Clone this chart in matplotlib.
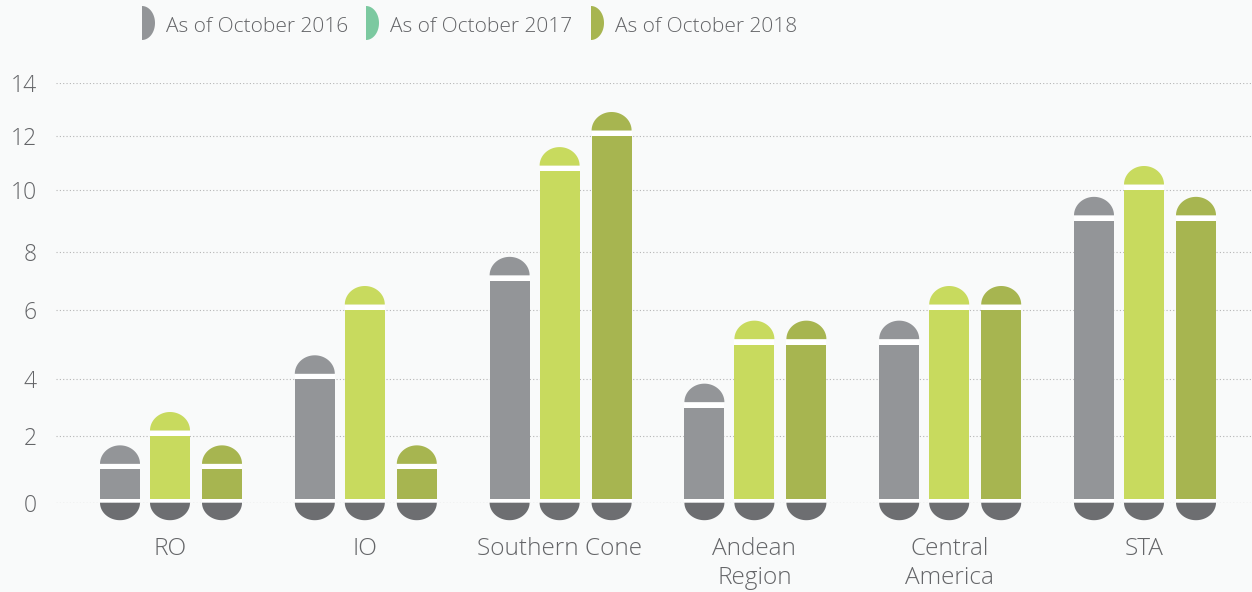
import numpy as np
import matplotlib
matplotlib.use("Agg")
import matplotlib.pyplot as plt
from matplotlib.patches import Polygon, Rectangle
from matplotlib.transforms import ScaledTranslation

# ---------------- data ----------------
categories = ["RO", "IO", "Southern Cone", "Andean\nRegion", "Central\nAmerica", "STA"]
series_labels = ["As of October 2016", "As of October 2017", "As of October 2018"]
values_2016 = [1, 4, 7, 3, 5, 9]
values_2017 = [2, 6, 10.7, 5, 6, 10]
values_2018 = [1, 1, 12, 5, 6, 9]
y_ticks = [0, 2, 4, 6, 8, 10, 12, 14]

# ---------------- style ----------------
W, H, DPI = 1252, 592, 100
BG = "#f9fafa"
TXT = "#646568"
bar_colors = ["#939598", "#c8da5e", "#a7b550"]
legend_colors = ["#939598", "#7cc9a0", "#a7b550"]
base_color = "#6d6e71"
FONT = "Open Sans"
WEIGHT = "light"

# irregular vertical placement of the reference axis (pixel heights above zero line)
tick_heights_px = [0, 66.7, 123.4, 192.7, 251.0, 312.7, 366.7, 419.7]

tv = np.array(y_ticks, float)
th = np.array(tick_heights_px, float)


def fwd(v):
    v = np.asarray(v, float)
    out = np.interp(v, tv, th)
    lo = v < tv[0]
    hi = v > tv[-1]
    out = np.where(lo, th[0] + (v - tv[0]) * (th[1] - th[0]) / (tv[1] - tv[0]), out)
    out = np.where(hi, th[-1] + (v - tv[-1]) * (th[-1] - th[-2]) / (tv[-1] - tv[-2]), out)
    return out


def inv(h):
    h = np.asarray(h, float)
    out = np.interp(h, th, tv)
    lo = h < th[0]
    hi = h > th[-1]
    out = np.where(lo, tv[0] + (h - th[0]) * (tv[1] - tv[0]) / (th[1] - th[0]), out)
    out = np.where(hi, tv[-1] + (h - th[-1]) * (tv[-1] - tv[-2]) / (th[-1] - th[-2]), out)
    return out


fig = plt.figure(figsize=(W / DPI, H / DPI), dpi=DPI, facecolor=BG)
zero_y, top_y, left_x = 502.7, 83.0, 56.0
ax = fig.add_axes([left_x / W, (H - zero_y) / H, (W - left_x) / W, (zero_y - top_y) / H])
ax.set_facecolor(BG)
ax.set_yscale("function", functions=(fwd, inv))
ax.set_ylim(0, 14)

unit_px = 194.8
first_center = 170.0
ax.set_xlim(-(first_center - left_x) / unit_px, (W - first_center) / unit_px)

offsets_px = [-50, 0, 52]
bar_w_px = 40
bar_w = bar_w_px / unit_px
x = np.arange(len(categories))

# grid
for tk in y_ticks:
    ax.axhline(tk, color="#b5b5b5", lw=0.8, ls=(0, (1, 2)), zorder=1)

px = 1.0 / DPI  # inches per pixel
rx = bar_w_px / 2 * px
cap_h = 18.5 * px
cap_gap = 5.5 * px
base_h = 17.5 * px
base_gap = 3.5 * px
t = np.linspace(0, np.pi, 60)

all_vals = [values_2016, values_2017, values_2018]
for s, vals in enumerate(all_vals):
    xs = x + offsets_px[s] / unit_px
    ax.bar(xs, vals, width=bar_w, color=bar_colors[s], zorder=2, linewidth=0)
    for xi, v in zip(xs, vals):
        trans_top = fig.dpi_scale_trans + ScaledTranslation(xi, v, ax.transData)
        ax.add_patch(Rectangle((-rx, 0), 2 * rx, cap_gap, facecolor="white",
                               edgecolor="none", transform=trans_top, zorder=3, clip_on=False))
        cap = np.column_stack([rx * np.cos(t), cap_gap + cap_h * np.sin(t)])
        ax.add_patch(Polygon(cap, closed=True, facecolor=bar_colors[s], edgecolor="none",
                             transform=trans_top, zorder=3, clip_on=False))
        trans_zero = fig.dpi_scale_trans + ScaledTranslation(xi, 0, ax.transData)
        ax.add_patch(Rectangle((-rx, 0), 2 * rx, base_gap, facecolor="white",
                               edgecolor="none", transform=trans_zero, zorder=3, clip_on=False))
        base = np.column_stack([rx * np.cos(t), -base_h * np.sin(t)])
        ax.add_patch(Polygon(base, closed=True, facecolor=base_color, edgecolor="none",
                             transform=trans_zero, zorder=3, clip_on=False))

ax.axhline(0, color="#b5b5b5", lw=0.8, ls=(0, (1, 2)), zorder=4)

for sp in ax.spines.values():
    sp.set_visible(False)

ax.set_yticks(y_ticks)
ax.set_yticklabels([str(v) for v in y_ticks], fontsize=16.5, color=TXT, family=FONT,
                   fontweight=WEIGHT)
ax.set_xticks(x)
ax.set_xticklabels(categories, fontsize=17.6, color=TXT, family=FONT, fontweight=WEIGHT,
                   linespacing=1.28)
ax.tick_params(axis="y", length=0, pad=14)
ax.tick_params(axis="x", length=0, pad=25)
ax.yaxis.set_minor_locator(matplotlib.ticker.NullLocator())

# legend (half-disc markers)
leg_x_px = [142, 366, 591]
leg_cy_px = 23
for i, lab in enumerate(series_labels):
    tl = np.linspace(-np.pi / 2, np.pi / 2, 40)
    pts = np.column_stack([(leg_x_px[i] + 13 * np.cos(tl)) * px,
                           (H - leg_cy_px + 17 * np.sin(tl)) * px])
    fig.add_artist(Polygon(pts, closed=True, facecolor=legend_colors[i], edgecolor="none",
                           transform=fig.dpi_scale_trans))
    fig.text((leg_x_px[i] + 24) / W, (H - 32) / H, lab, fontsize=15, color=TXT,
             family=FONT, fontweight=WEIGHT, ha="left", va="baseline")

fig.savefig("out.png", dpi=DPI, facecolor=BG)
